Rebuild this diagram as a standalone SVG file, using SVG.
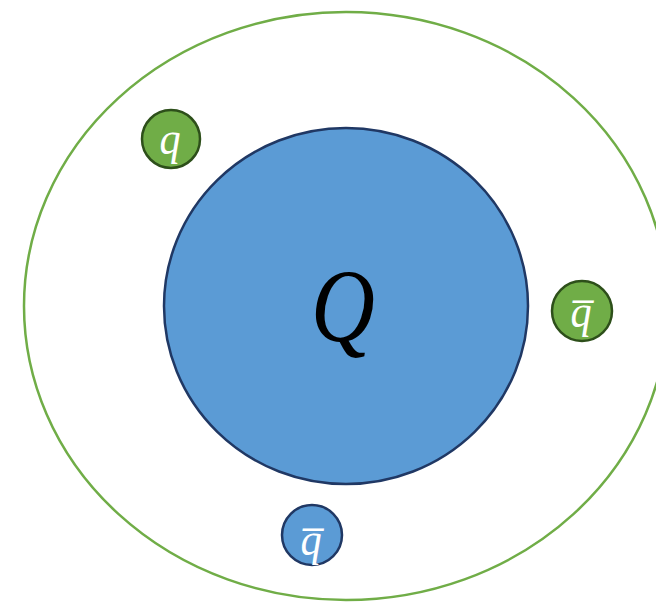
<svg xmlns="http://www.w3.org/2000/svg" width="656" height="603" viewBox="0 0 656 603">
<style>
.lbl{font-family:"Liberation Serif","DejaVu Serif",serif;font-style:italic;text-anchor:middle}
.small{font-size:47px;fill:#ffffff}
.green{fill:#70AD47;stroke:#2D4F1A;stroke-width:2.5}
.blue{fill:#5B9BD5;stroke:#203864;stroke-width:2.5}
</style>
<rect width="656" height="603" fill="#ffffff"/>
<g id="outer">
<ellipse cx="346" cy="306" rx="322" ry="294" fill="none" stroke="#70AD47" stroke-width="2.5"/>
</g>
<g id="Q">
<ellipse class="blue" cx="346" cy="306" rx="182" ry="178"/>
<text class="lbl" x="0" y="0" font-size="104" fill="#000000" transform="translate(343,341) scale(0.85,1)">Q</text>
</g>
<g id="q">
<circle class="green" cx="171" cy="139" r="29"/>
<text class="lbl small" x="0" y="0" transform="translate(170,154) scale(0.9,1)">q</text>
</g>
<g id="qbar-right">
<circle class="green" cx="582" cy="311" r="30"/>
<text class="lbl small" x="0" y="0" transform="translate(581,327) scale(0.9,1)">q̅</text>
</g>
<g id="qbar-bottom">
<circle class="blue" cx="312" cy="535" r="30"/>
<text class="lbl small" x="0" y="0" transform="translate(311,555) scale(0.9,1)">q̅</text>
</g>
<g id="connectors"></g>
</svg>
